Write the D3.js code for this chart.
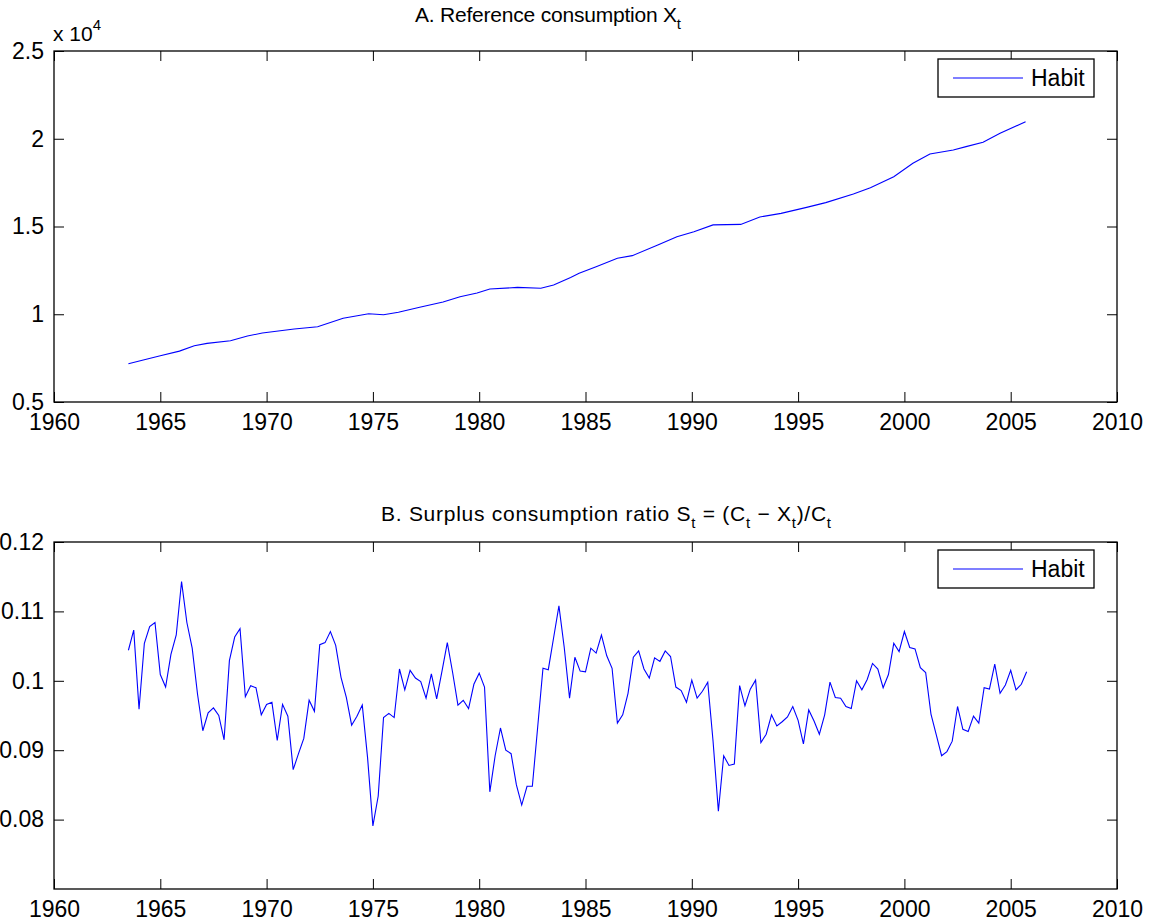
<!DOCTYPE html>
<html>
<head>
  <title>Reference consumption and surplus ratio</title>
  <style>
    body { margin: 0; background: #fff; }
    svg { display: block; }
    text { font-family: "Liberation Sans", Arial, Helvetica, sans-serif; fill: #000; }
  </style>
</head>
<body>
  <svg width="1152" height="924"></svg>

  <script src="https://unpkg.com/d3@7/dist/d3.min.js"></script>
  <script type="text/javascript">
    // panel A: reference consumption X_t
    var habitYears = [1963.5, 1964.2, 1965.0, 1965.9, 1966.6, 1967.2, 1968.3, 1969.1, 1969.8, 1971.3,
      1972.4, 1973.6, 1974.8, 1975.5, 1976.2, 1977.2, 1978.3, 1979.1, 1979.9, 1980.5,
      1981.8, 1982.9, 1983.5, 1984.3, 1984.7, 1985.5, 1986.5, 1987.2, 1988.4, 1989.3,
      1990.1, 1991.0, 1992.3, 1993.2, 1994.2, 1995.4, 1996.3, 1997.6, 1998.4, 1999.5,
      2000.4, 2001.2, 2002.3, 2002.9, 2003.7, 2004.5, 2005.7]
    var habitLevel = [7180, 7390, 7640, 7900, 8210, 8340, 8490, 8760, 8930, 9160,
      9290, 9770, 10030, 9970, 10110, 10400, 10700, 11000, 11210, 11440,
      11530, 11480, 11670, 12100, 12330, 12710, 13190, 13340, 13950, 14420,
      14700, 15090, 15120, 15540, 15750, 16090, 16360, 16850, 17210, 17840,
      18600, 19130, 19360, 19550, 19800, 20310, 20970]

    // panel B: surplus consumption ratio, quarterly from 1963Q3
    var surplusStart = 1963.5
    var surplusRatio = [
      0.1044, 0.1073, 0.0959, 0.1054, 0.1078, 0.1084, 0.1009, 0.0991, 0.1038, 0.1066,
      0.1143, 0.1084, 0.1047, 0.0981, 0.0928, 0.0954, 0.0961, 0.0950, 0.0915, 0.1029,
      0.1063, 0.1075, 0.0977, 0.0993, 0.0990, 0.0951, 0.0966, 0.0969, 0.0914, 0.0966,
      0.0949, 0.0872, 0.0895, 0.0917, 0.0972, 0.0956, 0.1052, 0.1055, 0.1071, 0.1051,
      0.1005, 0.0976, 0.0936, 0.0949, 0.0965, 0.0889, 0.0791, 0.0834, 0.0947, 0.0953,
      0.0947, 0.1017, 0.0987, 0.1015, 0.1004, 0.0999, 0.0975, 0.1010, 0.0974, 0.1014,
      0.1055, 0.1012, 0.0965, 0.0972, 0.0960, 0.0995, 0.1011, 0.0991, 0.0840, 0.0892,
      0.0932, 0.0900, 0.0895, 0.0850, 0.0821, 0.0848, 0.0848, 0.0933, 0.1018, 0.1016,
      0.1062, 0.1108, 0.1048, 0.0975, 0.1034, 0.1014, 0.1013, 0.1047, 0.1040, 0.1066,
      0.1036, 0.1018, 0.0939, 0.0951, 0.0982, 0.1034, 0.1043, 0.1017, 0.1004, 0.1033,
      0.1028, 0.1043, 0.1035, 0.0991, 0.0986, 0.0969, 0.1001, 0.0975, 0.0985, 0.0998,
      0.0913, 0.0812, 0.0892, 0.0878, 0.0880, 0.0993, 0.0964, 0.0988, 0.1001, 0.0911,
      0.0923, 0.0951, 0.0935, 0.0941, 0.0948, 0.0963, 0.0943, 0.0909, 0.0958, 0.0942,
      0.0923, 0.0951, 0.0998, 0.0976, 0.0975, 0.0963, 0.0960, 0.1000, 0.0987, 0.1002,
      0.1025, 0.1017, 0.0990, 0.1009, 0.1054, 0.1042, 0.1071, 0.1048, 0.1046, 0.1019,
      0.1012, 0.0952, 0.0922, 0.0892, 0.0898, 0.0913, 0.0963, 0.0930, 0.0927, 0.0949,
      0.0939, 0.0990, 0.0988, 0.1024, 0.0982, 0.0994, 0.1015, 0.0987, 0.0995, 0.1013]

    var yearTicks = [1960, 1965, 1970, 1975, 1980, 1985, 1990, 1995, 2000, 2005, 2010]
    var levelTicks = [5000, 10000, 15000, 20000, 25000]
    var ratioTicks = [0.08, 0.09, 0.10, 0.11, 0.12]
    var seriesName = "Habit"

    var svg = d3.select("svg"),
      left = 54, right = 1117, tick = 10, fs = 23

    var x = d3.scaleLinear().domain([1960, 2010]).range([left, right])

    // title: start x, baseline offset above the box, fitted width, pieces [text, sub?]
    function panel(top, bottom, yDomain, yTicks, yFmt, pts, title) {
      var y = d3.scaleLinear().domain(yDomain).range([bottom, top])
      var g = svg.append("g")

      g.append("path")
        .datum(pts)
        .attr("fill", "none")
        .attr("stroke", "#0000ff")
        .attr("stroke-width", 1.1)
        .attr("d", d3.line().x(d => x(d[0])).y(d => y(d[1])))

      var axes = [
        [d3.axisBottom(x).tickValues(yearTicks).tickFormat(d3.format("d")), "translate(0," + bottom + ")", 12],
        [d3.axisTop(x).tickValues(yearTicks).tickFormat(""), "translate(0," + top + ")", 0],
        [d3.axisLeft(y).tickValues(yTicks).tickFormat(yFmt), "translate(" + left + ",0)", 10],
        [d3.axisRight(y).tickValues(yTicks).tickFormat(""), "translate(" + right + ",0)", 0]
      ]
      axes.forEach(function (a) {
        var ax = g.append("g").attr("transform", a[1])
          .call(a[0].tickSizeInner(-tick).tickSizeOuter(0).tickPadding(a[2]))
        ax.select(".domain").remove()
        ax.selectAll("line").attr("stroke", "#000").attr("stroke-width", 1)
        ax.selectAll("text").attr("font-size", fs).attr("font-family", null).attr("fill", "#000")
      })

      g.append("rect")
        .attr("x", left).attr("y", top)
        .attr("width", right - left).attr("height", bottom - top)
        .attr("fill", "none").attr("stroke", "#000").attr("stroke-width", 1.3)

      // legend
      var lg = g.append("g").attr("transform", "translate(938," + (top + 8) + ")")
      lg.append("rect").attr("width", 156).attr("height", 38)
        .attr("fill", "#fff").attr("stroke", "#000").attr("stroke-width", 1.3)
      lg.append("line").attr("x1", 15).attr("x2", 85).attr("y1", 19).attr("y2", 19)
        .attr("stroke", "#0000ff").attr("stroke-width", 1.1)
      lg.append("text").attr("x", 93).attr("y", 27).attr("font-size", fs).text(seriesName)

      // title with subscripts
      var t = g.append("text").attr("x", title.x).attr("y", top - title.gap)
        .attr("font-size", 21)
        .attr("textLength", title.width).attr("lengthAdjust", "spacing")
      var down = false
      title.parts.forEach(function (p) {
        var s = t.append("tspan").text(p[0])
        if (p[1]) { s.attr("font-size", 15).attr("dy", 7); down = true }
        else if (down) { s.attr("dy", -7); down = false }
      })
      return g
    }

    panel(51, 402, [5000, 25000], levelTicks, d => d3.format("")(d / 10000),
      habitYears.map((yr, i) => [yr, habitLevel[i]]),
      {x: 415, gap: 29, width: 266, parts: [["A. Reference consumption X"], ["t", 1]]})

    svg.append("text").attr("x", 53).attr("y", 41).attr("font-size", 21)
      .text("x 10")
      .append("tspan").attr("font-size", 15).attr("dy", -11).text("4")

    panel(542, 889, [0.07, 0.12], ratioTicks, d => String(+d.toFixed(2)),
      surplusRatio.map((v, i) => [surplusStart + i / 4, v]),
      {x: 381, gap: 21, width: 450, parts: [["B. Surplus consumption ratio S"], ["t", 1], [" = (C"], ["t", 1],
        [" \u2212 X"], ["t", 1], [")/C"], ["t", 1]]})
  </script>
</body>
</html>
